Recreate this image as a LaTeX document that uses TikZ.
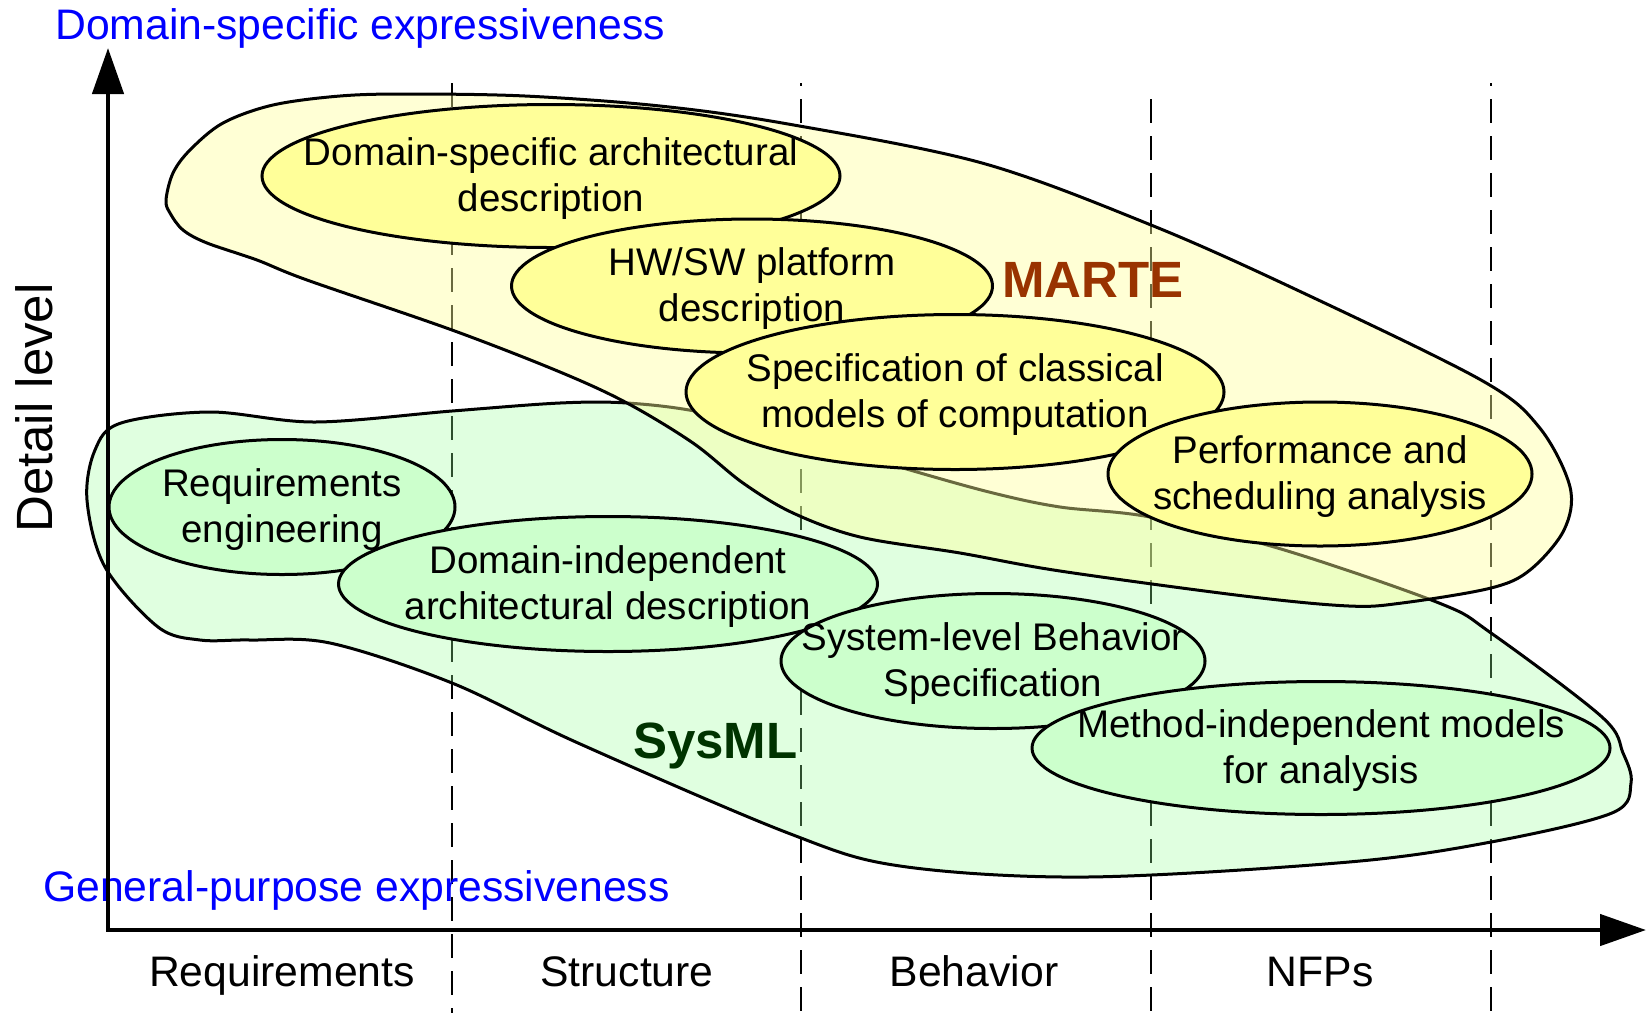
\documentclass[tikz,border=0pt]{standalone}
\usepackage{fontspec}
\setmainfont{Liberation Sans}
\usetikzlibrary{shapes.geometric, arrows.meta}

\definecolor{martefill}{HTML}{FFFF99}
\definecolor{sysmlfill}{HTML}{99FF99}
\definecolor{ellyellow}{HTML}{FFFF99}
\definecolor{ellgreen}{HTML}{CCFFCC}
\definecolor{martetext}{HTML}{993300}
\definecolor{sysmltext}{HTML}{003300}
\definecolor{exprblue}{HTML}{0000FF}

\begin{document}
\begin{tikzpicture}[x=1pt, y=-1pt,
  guide/.style={line width=2.4pt, dash pattern=on 24pt off 13pt},
  blobline/.style={draw=black, line width=3pt},
  ell/.style={ellipse, draw=black, line width=3pt, inner sep=0pt},
  yell/.style={ell, fill=ellyellow},
  gell/.style={ell, fill=ellgreen},
  etext/.style={font=\fontsize{38.5}{46}\selectfont, align=center, inner sep=0pt, yshift=-3pt},
  axislabel/.style={font=\fontsize{42.7}{50}\selectfont, anchor=base, inner sep=0pt},
  exprlabel/.style={font=\fontsize{42.7}{50}\selectfont, text=exprblue, anchor=base west, inner sep=0pt},
  langlabel/.style={font=\fontsize{51}{60}\selectfont\bfseries, anchor=base west, inner sep=0pt},
  axis/.style={line width=4.5pt, line cap=rect, -{Triangle[length=46pt, width=31pt]}},
]
\useasboundingbox (0,0) rectangle (1648,1013);

% column separators
\coordinate (g1top) at (452,83);   \coordinate (g1bot) at (452,1013);
\coordinate (g2top) at (801,83);   \coordinate (g2bot) at (801,1013);
\coordinate (g3top) at (1151,99);  \coordinate (g3bot) at (1151,1013);
\coordinate (g4top) at (1491,83);  \coordinate (g4bot) at (1491,1013);
\draw[guide] (g1top) -- (g1bot);
\draw[guide, dash phase=21pt] (g2top) -- (g2bot);
\draw[guide] (g3top) -- (g3bot);
\draw[guide, dash phase=21pt] (g4top) -- (g4bot);

% SysML region
\filldraw[blobline, fill=sysmlfill, fill opacity=0.3]
  plot[smooth cycle, tension=0.55] coordinates {
    (121,423) (210,412) (315,422) (452,411) (560,403) (627,403)
    (700,412) (800,437) (910,470) (993,493) (1060,507) (1150,517)
    (1281,549) (1439,603) (1491,633) (1602,717) (1623,753) (1631,783)
    (1612,813) (1491,842) (1349,862) (1087,877) (900,866) (788,833)
    (578,743) (452,683) (330,643) (250,640) (200,640) (158,627)
    (105,567) (87,500) (95,450)};

% MARTE region
\filldraw[blobline, fill=martefill, fill opacity=0.41]
  plot[smooth cycle, tension=0.55] coordinates {
    (166,200) (173,173) (190,150) (223,123) (273,105) (340,96)
    (407,94) (525,96) (660,106) (788,124) (982,163) (1151,225)
    (1297,290) (1481,380) (1539,427) (1570,487) (1564,530) (1530,570)
    (1491,588) (1402,603) (1349,606) (1244,596) (1060,571) (960,553)
    (860,537) (793,513) (743,483) (693,443) (627,403) (560,372)
    (452,330) (307,280) (257,260) (207,243) (183,230) (170,213)};

% MARTE concerns
\node[yell, minimum width=578pt, minimum height=143pt,
  label={[etext]center:{Domain-specific architectural\\description}}]
  (dsarch) at (551,176) {};
\node[yell, minimum width=481pt, minimum height=134pt,
  label={[etext]center:{HW/SW platform\\description}}]
  (hwsw) at (752,286) {};
\node[yell, minimum width=538pt, minimum height=155pt,
  label={[etext]center:{Specification of classical\\models of computation}}]
  (moc) at (955,392) {};
\node[yell, minimum width=424pt, minimum height=144pt,
  label={[etext]center:{Performance and\\scheduling analysis}}]
  (perf) at (1320,474) {};

% SysML concerns
\node[gell, minimum width=346pt, minimum height=135pt,
  label={[etext]center:{Requirements\\engineering}}]
  (reqeng) at (282,507) {};
\node[gell, minimum width=539pt, minimum height=135pt,
  label={[etext]center:{Domain-independent\\architectural description}}]
  (diarch) at (608,584) {};
\node[gell, minimum width=424pt, minimum height=135pt,
  label={[etext]center:{System-level Behavior\\Specification}}]
  (sysbeh) at (993,661) {};
\node[gell, minimum width=578pt, minimum height=133pt,
  label={[etext]center:{Method-independent models\\for analysis}}]
  (mianal) at (1321,748) {};

% profile names
\node[langlabel, text=martetext] (marte) at (1002,297) {MARTE};
\node[langlabel, text=sysmltext] (sysml) at (633,758) {SysML};

% axis annotations
\node[exprlabel] (dsexpr) at (55,39) {Domain-specific expressiveness};
\node[exprlabel] (gpexpr) at (43,901) {General-purpose expressiveness};
\node[font=\fontsize{51}{60}\selectfont, rotate=90, anchor=base, inner sep=0pt]
  (detail) at (52,408) {Detail level};
\node[axislabel] (colreq) at (282,986) {Requirements};
\node[axislabel] (colstr) at (627,986) {Structure};
\node[axislabel] (colbeh) at (974,986) {Behavior};
\node[axislabel] (colnfp) at (1320,986) {NFPs};

% axes
\coordinate (origin) at (108,930);
\coordinate (ytip) at (108,48);
\coordinate (xtip) at (1646,930);
\draw[axis] (origin) -- (ytip);
\draw[axis] (origin) -- (xtip);
\end{tikzpicture}
\end{document}
